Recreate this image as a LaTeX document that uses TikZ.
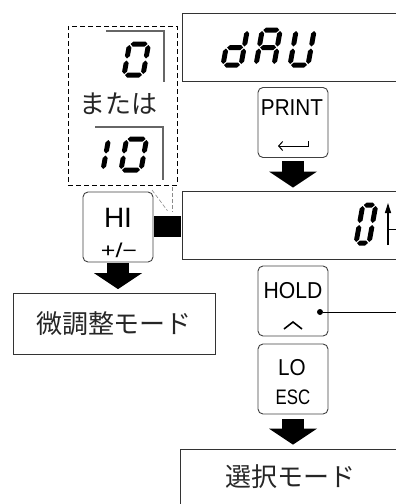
\documentclass[tikz,border=0pt]{standalone}
\usepackage{fontspec}
\setmainfont{Liberation Sans}
\newfontfamily\jpfont{Noto Sans CJK JP}
\usetikzlibrary{arrows.meta,positioning}

% seven-segment pieces (y runs downwards)
\newcommand{\segt}{2.5}
\newcommand{\hseg}[3]{\fill ({#1-(#3)},{#2}) -- ({#1-(#3)+\segt},{#2-\segt}) -- ({#1+(#3)-\segt},{#2-\segt})
  -- ({#1+(#3)},{#2}) -- ({#1+(#3)-\segt},{#2+\segt}) -- ({#1-(#3)+\segt},{#2+\segt}) -- cycle;}
\newcommand{\vseg}[3]{\fill ({#1},{#2-(#3)}) -- ({#1+\segt},{#2-(#3)+\segt}) -- ({#1+\segt},{#2+(#3)-\segt})
  -- ({#1},{#2+(#3)}) -- ({#1-\segt},{#2+(#3)-\segt}) -- ({#1-\segt},{#2-(#3)+\segt}) -- cycle;}
\newcommand{\lcda}{\hseg{\dw/2}{-\dh}{\dw/2-1}}
\newcommand{\lcdb}{\vseg{\dw}{-3*\dh/4}{\dh/4-1}}
\newcommand{\lcdc}{\vseg{\dw}{-\dh/4}{\dh/4-1}}
\newcommand{\lcdd}{\hseg{\dw/2}{0}{\dw/2-1}}
\newcommand{\lcde}{\vseg{0}{-\dh/4}{\dh/4-1}}
\newcommand{\lcdf}{\vseg{0}{-3*\dh/4}{\dh/4-1}}
\newcommand{\lcdg}{\hseg{\dw/2}{-\dh/2}{\dw/2-1}}
% x, baseline y, width, height, segments
\newcommand{\lcddigit}[5]{%
  \begin{scope}[shift={(#1,#2)},xslant=0.18]
    \def\dw{#3}\def\dh{#4}
    \foreach \s in {#5}{\csname lcd\s\endcsname}
  \end{scope}}
% narrowed key lettering
\newcommand{\keylabel}[2]{\scalebox{#1}[1]{#2}}

\begin{document}
\begin{tikzpicture}[x=1pt,y=-1pt,>=Latex,
  display/.style={draw=black!80,line width=1pt,minimum width=240pt,minimum height=68pt,inner sep=0pt},
  keybox/.style={draw=black!75,line width=0.9pt,rounded corners=5pt,minimum width=70pt,minimum height=70pt,inner sep=0pt},
  keytext/.style={inner sep=0pt,font=\fontsize{23}{23}\selectfont},
  modebox/.style={draw=black!80,line width=0.8pt,inner sep=0pt,text=black!85,font=\jpfont\fontsize{26}{30}\selectfont},
  fatarrow/.style={line width=22pt,-{Triangle[length=16pt,width=48pt,line width=0pt]}},
  lcdframe/.style={draw=black!60,line width=1.3pt},
  leader/.style={draw=black!45,line width=0.6pt,dash pattern=on 4pt off 2pt}]
\useasboundingbox (0,0) rectangle (396,504);
\clip (0,0) rectangle (396,504);

% displays
\node[display] (dispDAU) at (302,47) {};
\node[display] (dispZero) at (302,225) {};
\lcddigit{223}{65}{18}{35}{b,c,d,e,g}
\lcddigit{256}{65}{18}{35}{a,b,c,e,f,g}
\lcddigit{290}{65}{18}{35}{b,c,d,e,f}
\lcddigit{356}{243}{13}{38}{a,b,c,d,e,f}
\draw[line width=1.2pt,-{Triangle[length=10pt,width=6pt]}] (388,245) -- (388,203);
\draw[line width=1pt] (388,229) -- (400,229);

% keys
\node[keybox] (keyPRINT) at (293,122.5) {};
\node[keytext] (txtPRINT) at (292,108) {\keylabel{0.9}{PRINT}};
\draw[line width=1pt,-{Straight Barb[length=4pt,width=9pt]}] (308,141) -- (308,146) -- (278,146);

\node[keybox] (keyHI) at (118,227) {};
\node[keytext,font=\fontsize{28}{28}\selectfont] (txtHI) at (118,218) {HI};
\node[keytext,font=\fontsize{20}{20}\selectfont] (txtPM) at (119,250) {\keylabel{1.25}{+/−}};

\node[keybox] (keyHOLD) at (293,301) {};
\node[keytext] (txtHOLD) at (293,291) {\keylabel{0.92}{HOLD}};
\draw[line width=1.6pt] (284,329) -- (293,322) -- (302,329);
\node[circle,fill,inner sep=0pt,minimum size=6pt] (holdDot) at (320,312) {};
\coordinate (holdEnd) at (400,312);
\draw[line width=0.8pt] (holdDot) -- (holdEnd);

\node[keybox] (keyESC) at (293,379) {};
\node[keytext] (txtLO) at (292,368) {\keylabel{0.9}{LO}};
\node[keytext,font=\fontsize{21}{21}\selectfont] (txtESC) at (293,397) {\keylabel{0.8}{ESC}};

% alternatives shown while HI is lit
\node[draw,line width=0.8pt,dash pattern=on 5pt off 3pt,minimum width=109pt,minimum height=159pt,inner sep=0pt] (altBox) at (122.5,105.5) {};
\draw[lcdframe] (106,31) -- (164,31) -- (164,82);
\lcddigit{124}{75}{19}{31}{a,b,c,d,e,f}
\node[text=black!85,font=\jpfont\fontsize{26}{26}\selectfont] (altOr) at (118.5,104) {または};
\draw[lcdframe] (95,127) -- (163,127) -- (163,180);
\lcddigit{103}{170}{19}{31}{e,f}
\lcddigit{121}{170}{20}{31}{a,b,c,d,e,f}
\node[fill=black,minimum width=27pt,minimum height=21pt,inner sep=0pt] (hiLamp) at (167.5,226.5) {};
\coordinate (leadA) at (152,190);
\coordinate (leadB) at (172,187);
\draw[leader] (leadA) -- ([yshift=5pt]hiLamp.north);
\draw[leader] (leadB) -- ([xshift=4.5pt,yshift=4pt]hiLamp.north);

% modes
\node[modebox,minimum width=202pt,minimum height=61pt] (modeFine) at (114,323.5) {微調整モード};
\node[modebox,minimum width=220pt,minimum height=56pt] (modeSelect) at (290,477) {選択モード};

% fat arrows
\coordinate (tipPRINT) at (keyPRINT.south |- dispZero.north);
\coordinate (tipHI) at (keyHI.south |- modeFine.north);
\coordinate (tipESC) at (keyESC.south |- modeSelect.north);
\draw[fatarrow] ([yshift=-3.5pt]keyPRINT.south) -- ([yshift=3pt]tipPRINT);
\draw[fatarrow] ([yshift=-1pt]keyHI.south) -- ([yshift=3.5pt]tipHI);
\draw[fatarrow] ([yshift=-5pt]keyESC.south) -- ([yshift=4pt]tipESC);
\end{tikzpicture}
\end{document}
